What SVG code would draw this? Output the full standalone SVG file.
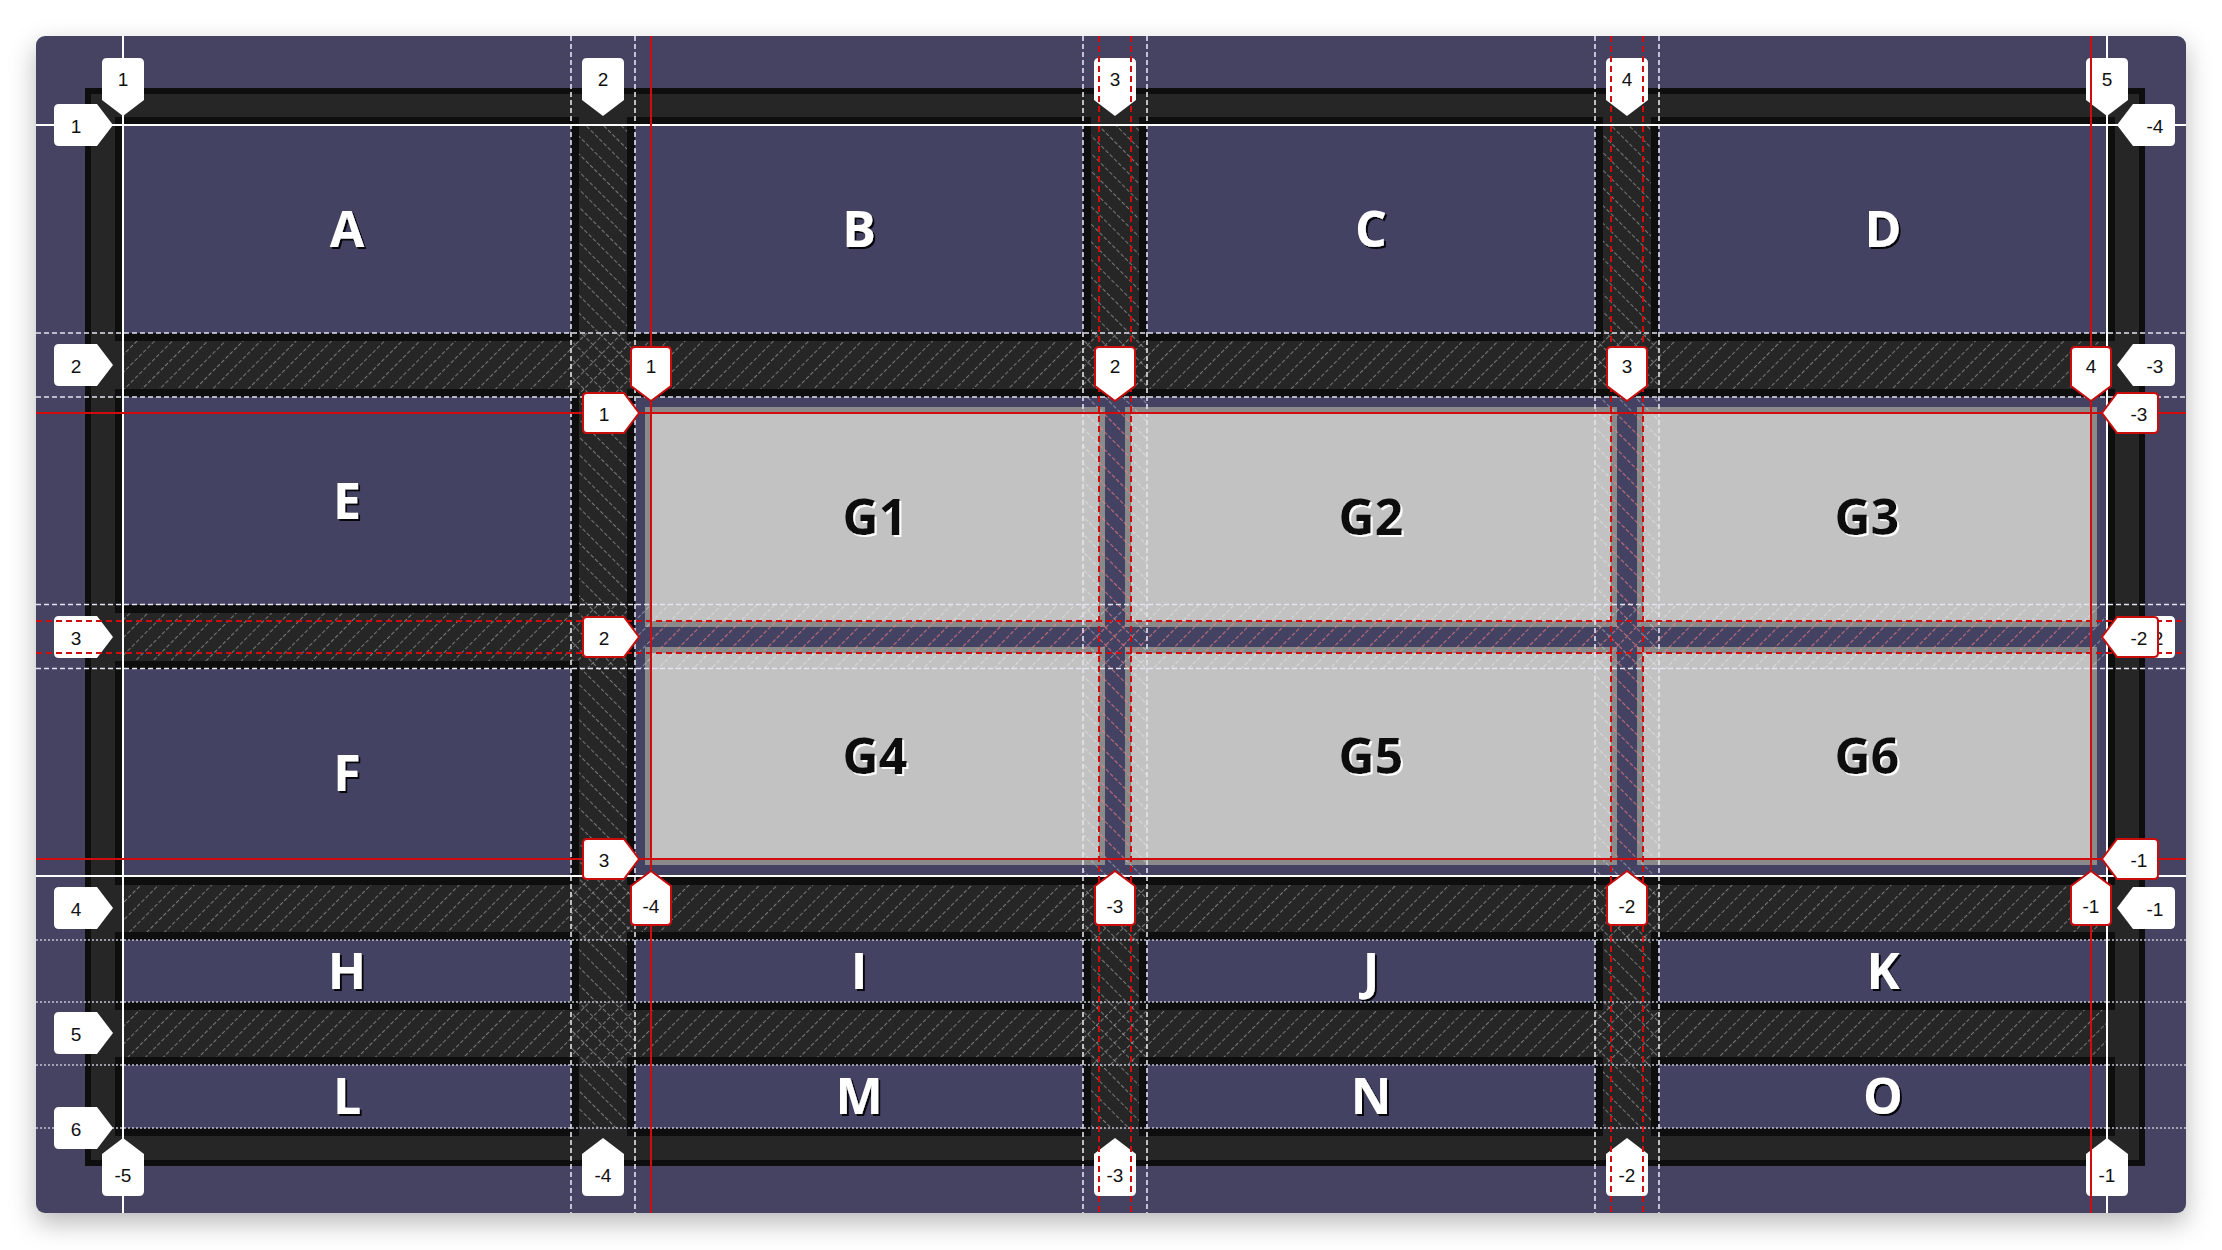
<svg xmlns="http://www.w3.org/2000/svg" xmlns:xlink="http://www.w3.org/1999/xlink" width="2222" height="1250" viewBox="0 0 2222 1250">
<defs>
<style>
.card{fill:#444262}
.frame{fill:#262626;stroke:#0e0e0e;stroke-width:6}
.item{fill:#444262;stroke:#0e0e0e;stroke-width:8}
.gcont{fill:#444262}
.gout{fill:none;stroke:#0e0e0e;stroke-width:8}
.gitem{fill:#c2c2c2;stroke:#8a8a8a;stroke-width:6}
.big{font-family:"Open Sans","Liberation Sans",sans-serif;font-weight:700;font-size:50px;text-anchor:middle}
.wt{fill:#ffffff;filter:url(#shB)}
.bt{fill:#0a0a0a;filter:url(#shW)}
.wsolid{stroke:#ffffff;stroke-width:2}
.wdash{stroke:#e4e4f0;stroke-width:1.6;stroke-dasharray:5 3}
.wdot{stroke:#c4c4d4;stroke-width:1.6;stroke-dasharray:2 2}
.rsolid{stroke:#d10c0c;stroke-width:2}
.rdash{stroke:#d10c0c;stroke-width:2;stroke-dasharray:6 4}
.wl{fill:#ffffff}
.rl{fill:#ffffff;stroke:#c80d0d;stroke-width:2}
.lt{font-family:"Liberation Sans",Arial,sans-serif;font-size:19px;fill:#111;text-anchor:middle;dominant-baseline:central}
</style>
<filter id="cardShadow" x="-5%" y="-5%" width="110%" height="115%">
<feDropShadow dx="0" dy="10" stdDeviation="13" flood-color="#000" flood-opacity="0.28"/>
</filter>
<filter id="shB" x="-20%" y="-20%" width="140%" height="140%">
<feDropShadow dx="2" dy="2" stdDeviation="0.4" flood-color="#000" flood-opacity="0.9"/>
</filter>
<filter id="shW" x="-20%" y="-20%" width="140%" height="140%">
<feDropShadow dx="2" dy="2" stdDeviation="0.4" flood-color="#fff" flood-opacity="0.95"/>
</filter>
<pattern id="hRowW" width="12.5" height="12" patternUnits="userSpaceOnUse" patternTransform="rotate(45)">
<line x1="0.5" y1="0" x2="0.5" y2="12" stroke="#ffffff" stroke-opacity="0.38" stroke-width="1" stroke-dasharray="4 2"/>
</pattern>
<pattern id="hColW" width="12.5" height="12" patternUnits="userSpaceOnUse" patternTransform="rotate(-45)">
<line x1="0.5" y1="0" x2="0.5" y2="12" stroke="#ffffff" stroke-opacity="0.38" stroke-width="1" stroke-dasharray="4 2"/>
</pattern>
<pattern id="hRowR" width="12.5" height="12" patternUnits="userSpaceOnUse" patternTransform="rotate(45)">
<line x1="0.5" y1="0" x2="0.5" y2="12" stroke="#ff3a3a" stroke-opacity="0.45" stroke-width="1" stroke-dasharray="4 2"/>
</pattern>
<pattern id="hColR" width="12.5" height="12" patternUnits="userSpaceOnUse" patternTransform="rotate(-45)">
<line x1="0.5" y1="0" x2="0.5" y2="12" stroke="#ff3a3a" stroke-opacity="0.45" stroke-width="1" stroke-dasharray="4 2"/>
</pattern>
<path id="wDown" d="M0,0 L-21,-16 V-53 Q-21,-58 -16,-58 H16 Q21,-58 21,-53 V-16 Z"/>
<path id="wUp" d="M0,0 L-21,16 V53 Q-21,58 -16,58 H16 Q21,58 21,53 V16 Z"/>
<path id="wRight" d="M0,0 L-16,-21 H-54 Q-59,-21 -59,-16 V16 Q-59,21 -54,21 H-16 Z"/>
<path id="wLeft" d="M0,0 L16,-21 H53 Q58,-21 58,-16 V16 Q58,21 53,21 H16 Z"/>
<path id="rDown" d="M0,0 L-20,-15 V-50 Q-20,-54 -16,-54 H16 Q20,-54 20,-50 V-15 Z"/>
<path id="rUp" d="M0,0 L-20,15 V50 Q-20,54 -16,54 H16 Q20,54 20,50 V15 Z"/>
<path id="rRight" d="M0,0 L-15,-20 H-52 Q-56,-20 -56,-16 V16 Q-56,20 -52,20 H-15 Z"/>
<path id="rLeft" d="M0,0 L15,-20 H52 Q56,-20 56,-16 V16 Q56,20 52,20 H15 Z"/>
</defs>

<rect x="0" y="0" width="2222" height="1250" fill="#ffffff"/>
<g id="card">
<rect class="card" x="36" y="36" width="2150" height="1177" rx="9" filter="url(#cardShadow)"/>
</g>
<g id="frame">
<rect class="frame" x="88" y="91" width="2054" height="1072"/>
</g>

<g id="node-G">
<rect class="gcont" x="635" y="397" width="1472" height="480"/>
</g>
<g id="node-G1"><rect class="gitem" x="648" y="410" width="454" height="214"/><text class="big bt" x="875" y="535">G1</text></g>
<g id="node-G2"><rect class="gitem" x="1128" y="410" width="486" height="214"/><text class="big bt" x="1371" y="535">G2</text></g>
<g id="node-G3"><rect class="gitem" x="1640" y="410" width="454" height="214"/><text class="big bt" x="1867" y="535">G3</text></g>
<g id="node-G4"><rect class="gitem" x="648" y="650" width="454" height="212"/><text class="big bt" x="875" y="774">G4</text></g>
<g id="node-G5"><rect class="gitem" x="1128" y="650" width="486" height="212"/><text class="big bt" x="1371" y="774">G5</text></g>
<g id="node-G6"><rect class="gitem" x="1640" y="650" width="454" height="212"/><text class="big bt" x="1867" y="774">G6</text></g>

<g id="hatch">
<rect x="123" y="333" width="1984" height="64" fill="url(#hRowW)"/>
<rect x="123" y="605" width="1984" height="64" fill="url(#hRowW)"/>
<rect x="123" y="877" width="1984" height="63" fill="url(#hRowW)"/>
<rect x="123" y="1002" width="1984" height="63" fill="url(#hRowW)"/>
<rect x="571" y="125" width="64" height="1003" fill="url(#hColW)"/>
<rect x="1083" y="125" width="64" height="1003" fill="url(#hColW)"/>
<rect x="1595" y="125" width="64" height="1003" fill="url(#hColW)"/>
<rect x="651" y="621" width="1440" height="32" fill="url(#hRowR)"/>
<rect x="1099" y="413" width="32" height="446" fill="url(#hColR)"/>
<rect x="1611" y="413" width="32" height="446" fill="url(#hColR)"/>
</g>

<g id="node-G-outline">
<rect class="gout" x="631" y="393" width="1480" height="488"/>
</g>

<g id="node-A"><rect class="item" x="119" y="121" width="456" height="216"/><text class="big wt" x="347" y="247">A</text></g>
<g id="node-B"><rect class="item" x="631" y="121" width="456" height="216"/><text class="big wt" x="859" y="247">B</text></g>
<g id="node-C"><rect class="item" x="1143" y="121" width="456" height="216"/><text class="big wt" x="1371" y="247">C</text></g>
<g id="node-D"><rect class="item" x="1655" y="121" width="456" height="216"/><text class="big wt" x="1883" y="247">D</text></g>
<g id="node-E"><rect class="item" x="119" y="393" width="456" height="216"/><text class="big wt" x="347" y="519">E</text></g>
<g id="node-F"><rect class="item" x="119" y="665" width="456" height="216"/><text class="big wt" x="347" y="791">F</text></g>
<g id="node-H"><rect class="item" x="119" y="936" width="456" height="70"/><text class="big wt" x="347" y="989">H</text></g>
<g id="node-I"><rect class="item" x="631" y="936" width="456" height="70"/><text class="big wt" x="859" y="989">I</text></g>
<g id="node-J"><rect class="item" x="1143" y="936" width="456" height="70"/><text class="big wt" x="1371" y="989">J</text></g>
<g id="node-K"><rect class="item" x="1655" y="936" width="456" height="70"/><text class="big wt" x="1883" y="989">K</text></g>
<g id="node-L"><rect class="item" x="119" y="1061" width="456" height="71"/><text class="big wt" x="347" y="1114">L</text></g>
<g id="node-M"><rect class="item" x="631" y="1061" width="456" height="71"/><text class="big wt" x="859" y="1114">M</text></g>
<g id="node-N"><rect class="item" x="1143" y="1061" width="456" height="71"/><text class="big wt" x="1371" y="1114">N</text></g>
<g id="node-O"><rect class="item" x="1655" y="1061" width="456" height="71"/><text class="big wt" x="1883" y="1114">O</text></g>

<g id="connectors-white">
<line class="wdash" x1="571" y1="36" x2="571" y2="1213"/>
<line class="wdash" x1="635" y1="36" x2="635" y2="1213"/>
<line class="wdash" x1="1083" y1="36" x2="1083" y2="1213"/>
<line class="wdash" x1="1147" y1="36" x2="1147" y2="1213"/>
<line class="wdash" x1="1595" y1="36" x2="1595" y2="1213"/>
<line class="wdash" x1="1659" y1="36" x2="1659" y2="1213"/>
<line class="wdash" x1="36" y1="333" x2="2186" y2="333"/>
<line class="wdash" x1="36" y1="397" x2="2186" y2="397"/>
<line class="wdash" x1="36" y1="604.5" x2="2186" y2="604.5"/>
<line class="wdash" x1="36" y1="668.5" x2="2186" y2="668.5"/>
<line class="wdot" x1="36" y1="940" x2="2186" y2="940"/>
<line class="wdot" x1="36" y1="1002" x2="2186" y2="1002"/>
<line class="wdot" x1="36" y1="1065" x2="2186" y2="1065"/>
<line class="wdot" x1="36" y1="1128" x2="2186" y2="1128"/>
<line class="wsolid" x1="123" y1="36" x2="123" y2="1213"/>
<line class="wsolid" x1="2107" y1="36" x2="2107" y2="1213"/>
<line class="wsolid" x1="36" y1="125" x2="2186" y2="125"/>
<line class="wsolid" x1="36" y1="876" x2="2186" y2="876"/>
</g>

<g id="labels-white">
<use href="#wDown" class="wl" x="123" y="116"/><text class="lt" x="123" y="79">1</text>
<use href="#wDown" class="wl" x="603" y="116"/><text class="lt" x="603" y="79">2</text>
<use href="#wDown" class="wl" x="1115" y="116"/><text class="lt" x="1115" y="79">3</text>
<use href="#wDown" class="wl" x="1627" y="116"/><text class="lt" x="1627" y="79">4</text>
<use href="#wDown" class="wl" x="2107" y="116"/><text class="lt" x="2107" y="79">5</text>
<use href="#wUp" class="wl" x="123" y="1138"/><text class="lt" x="123" y="1175">-5</text>
<use href="#wUp" class="wl" x="603" y="1138"/><text class="lt" x="603" y="1175">-4</text>
<use href="#wUp" class="wl" x="1115" y="1138"/><text class="lt" x="1115" y="1175">-3</text>
<use href="#wUp" class="wl" x="1627" y="1138"/><text class="lt" x="1627" y="1175">-2</text>
<use href="#wUp" class="wl" x="2107" y="1138"/><text class="lt" x="2107" y="1175">-1</text>
<use href="#wRight" class="wl" x="113" y="125"/><text class="lt" x="76" y="126">1</text>
<use href="#wRight" class="wl" x="113" y="365"/><text class="lt" x="76" y="366">2</text>
<use href="#wRight" class="wl" x="113" y="637"/><text class="lt" x="76" y="638">3</text>
<use href="#wRight" class="wl" x="113" y="908"/><text class="lt" x="76" y="909">4</text>
<use href="#wRight" class="wl" x="113" y="1033"/><text class="lt" x="76" y="1034">5</text>
<use href="#wRight" class="wl" x="113" y="1128"/><text class="lt" x="76" y="1129">6</text>
<use href="#wLeft" class="wl" x="2117" y="125"/><text class="lt" x="2155" y="126">-4</text>
<use href="#wLeft" class="wl" x="2117" y="365"/><text class="lt" x="2155" y="366">-3</text>
<use href="#wLeft" class="wl" x="2117" y="637"/><text class="lt" x="2155" y="638">-2</text>
<use href="#wLeft" class="wl" x="2117" y="908"/><text class="lt" x="2155" y="909">-1</text>
</g>

<g id="connectors-red">
<line class="rdash" x1="1099" y1="36" x2="1099" y2="1213"/>
<line class="rdash" x1="1131" y1="36" x2="1131" y2="1213"/>
<line class="rdash" x1="1611" y1="36" x2="1611" y2="1213"/>
<line class="rdash" x1="1643" y1="36" x2="1643" y2="1213"/>
<line class="rdash" x1="36" y1="621" x2="2186" y2="621"/>
<line class="rdash" x1="36" y1="653" x2="2186" y2="653"/>
<line class="rsolid" x1="651" y1="36" x2="651" y2="1213"/>
<line class="rsolid" x1="2091" y1="36" x2="2091" y2="1213"/>
<line class="rsolid" x1="36" y1="413" x2="2186" y2="413"/>
<line class="rsolid" x1="36" y1="859" x2="2186" y2="859"/>
</g>

<g id="labels-red">
<use href="#rDown" class="rl" x="651" y="401"/><text class="lt" x="651" y="366">1</text>
<use href="#rDown" class="rl" x="1115" y="401"/><text class="lt" x="1115" y="366">2</text>
<use href="#rDown" class="rl" x="1627" y="401"/><text class="lt" x="1627" y="366">3</text>
<use href="#rDown" class="rl" x="2091" y="401"/><text class="lt" x="2091" y="366">4</text>
<use href="#rUp" class="rl" x="651" y="871"/><text class="lt" x="651" y="906">-4</text>
<use href="#rUp" class="rl" x="1115" y="871"/><text class="lt" x="1115" y="906">-3</text>
<use href="#rUp" class="rl" x="1627" y="871"/><text class="lt" x="1627" y="906">-2</text>
<use href="#rUp" class="rl" x="2091" y="871"/><text class="lt" x="2091" y="906">-1</text>
<use href="#rRight" class="rl" x="639" y="413"/><text class="lt" x="604" y="414">1</text>
<use href="#rRight" class="rl" x="639" y="637"/><text class="lt" x="604" y="638">2</text>
<use href="#rRight" class="rl" x="639" y="859"/><text class="lt" x="604" y="860">3</text>
<use href="#rLeft" class="rl" x="2102" y="413"/><text class="lt" x="2139" y="414">-3</text>
<use href="#rLeft" class="rl" x="2102" y="637"/><text class="lt" x="2139" y="638">-2</text>
<use href="#rLeft" class="rl" x="2102" y="859"/><text class="lt" x="2139" y="860">-1</text>
</g>
</svg>
